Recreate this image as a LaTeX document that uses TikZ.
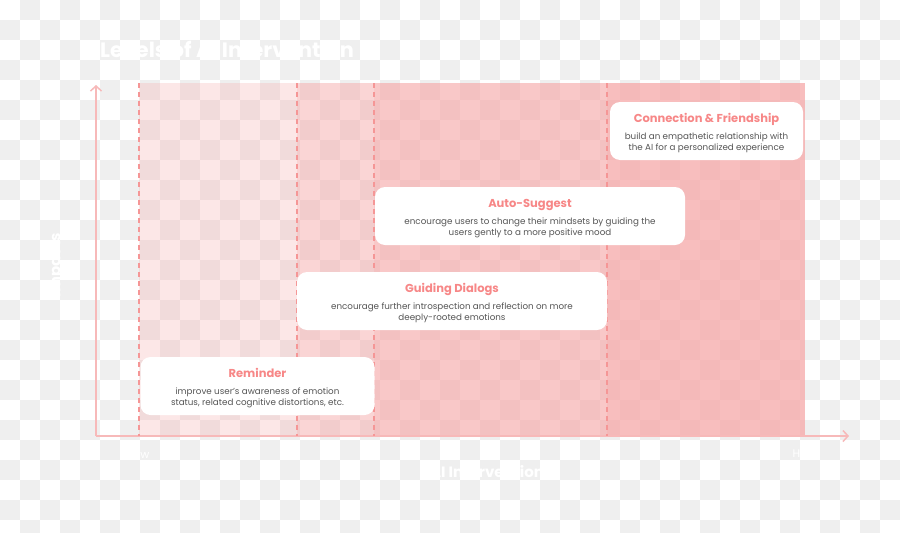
\documentclass[tikz,border=0pt]{standalone}
\usepackage{fontspec}
\setmainfont{Poppins}
\usetikzlibrary{arrows.meta}
\definecolor{rosa}{RGB}{247,163,163}
\definecolor{rosaguia}{RGB}{245,150,150}
\definecolor{rosaeje}{RGB}{247,185,185}
\definecolor{rosatitulo}{RGB}{247,135,135}
\definecolor{grisbody}{RGB}{85,85,85}
\definecolor{cuadro}{RGB}{239,239,239}

\begin{document}
\begin{tikzpicture}[x=1pt, y=-1pt,
    franja/.style={fill=rosa, fill opacity=0.25, draw=none},
    guia/.style={draw=rosaguia, line width=1.3pt, dash pattern=on 5pt off 4pt},
    eje/.style={draw=rosaeje, line width=1.5pt,
        -{Straight Barb[length=5pt, width=11pt]}},
    tarjeta/.style={fill=white, rounded corners=10pt, inner sep=0pt,
        minimum height=58pt},
    titulo/.style={text=rosatitulo, font=\fontsize{11.5}{14}\selectfont\bfseries,
        inner sep=0pt, anchor=base},
    cuerpo/.style={text=grisbody, font=\fontsize{8.75}{11}\selectfont,
        align=center, inner sep=0pt, anchor=base},
    rotulo/.style={text=white, font=\bfseries, inner sep=0pt}
    ]
    \useasboundingbox (0,0) rectangle (900,533);
    \fill[white] (0,0) rectangle (900,533);
    \foreach \i in {0,...,44}{
        \foreach \j in {0,...,26}{
            \pgfmathtruncatemacro\paridad{mod(\i+\j,2)}
            \ifnum\paridad=1 \fill[cuadro] (20*\i,20*\j) rectangle ++(20,20); \fi
        }
    }

    \fill[franja] (139,83) rectangle (805,436);
    \fill[franja] (297,83) rectangle (805,436);
    \fill[franja] (374,83) rectangle (805,436);
    \fill[franja] (607,83) rectangle (805,436);

    \coordinate (origen) at (96,436);
    \coordinate (arriba) at (96,85);
    \coordinate (derecha) at (849,436);
    \draw[eje] (origen) -- (arriba);
    \draw[eje] (origen) -- (derecha);

    \foreach \x in {139,297,374,607}
        \draw[guia] (\x,83) -- (\x,436);

    \node[rotulo, font=\fontsize{20.8}{24}\selectfont\bfseries, anchor=base west]
        (titulo) at (100,57) {Levels of AI Intervention};
    \node[rotulo, font=\fontsize{15}{18}\selectfont\bfseries, rotate=90]
        (ylab) at (57,265) {Impacts};
    \node[rotulo, font=\fontsize{15}{18}\selectfont\bfseries]
        (xlab) at (487,472) {AI Intervention};
    \node[rotulo, font=\fontsize{11}{13}\selectfont] (bajo) at (139,455) {Low};
    \node[rotulo, font=\fontsize{11}{13}\selectfont] (alto) at (805,455) {High};

    \node[tarjeta, minimum width=234pt] (remind) at (257.5,386) {};
    \node[titulo] (remindT) at ([yshift=-20.3pt]remind.north) {Reminder};
    \node[cuerpo] (remindB) at ([yshift=-48.5pt]remind.north)
        {improve user's awareness of emotion\\status, related cognitive distortions, etc.};

    \node[tarjeta, minimum width=310pt] (guide) at (452,301) {};
    \node[titulo] (guideT) at ([yshift=-20.3pt]guide.north) {Guiding Dialogs};
    \node[cuerpo] (guideB) at ([yshift=-48.5pt]guide.north)
        {encourage further introspection and reflection on more\\deeply-rooted emotions};

    \node[tarjeta, minimum width=310pt] (auto) at (530,216) {};
    \node[titulo] (autoT) at ([yshift=-20.3pt]auto.north) {Auto-Suggest};
    \node[cuerpo] (autoB) at ([yshift=-48.5pt]auto.north)
        {encourage users to change their mindsets by guiding the\\users gently to a more positive mood};

    \node[tarjeta, minimum width=193pt] (friend) at (706.5,131) {};
    \node[titulo] (friendT) at ([yshift=-20.3pt]friend.north) {Connection \& Friendship};
    \node[cuerpo] (friendB) at ([yshift=-48.5pt]friend.north)
        {build an empathetic relationship with\\the AI for a personalized experience};
\end{tikzpicture}
\end{document}
